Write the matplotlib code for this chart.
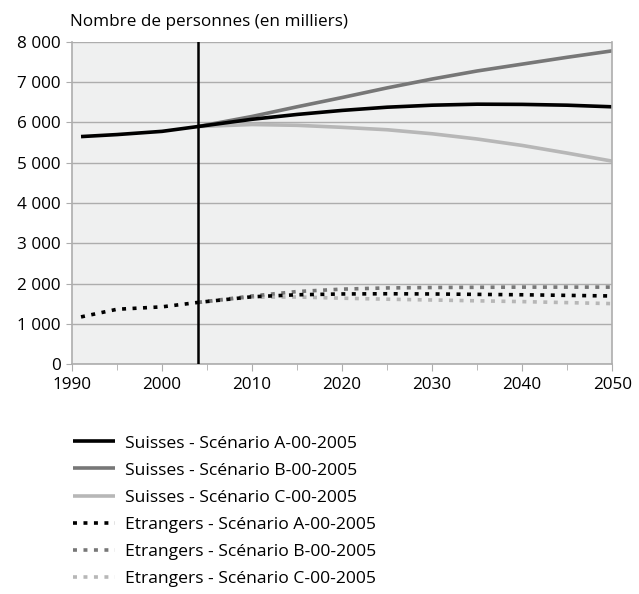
import matplotlib
matplotlib.use("Agg")
import matplotlib.pyplot as plt
from matplotlib.ticker import FuncFormatter, MultipleLocator

plt.rcParams["font.family"] = ["Open Sans", "DejaVu Sans"]

# Suisses (en milliers)
years_hist = [1991, 1995, 2000, 2004]
suisses_hist = [5650, 5700, 5780, 5900]
years_proj = [2004, 2010, 2015, 2020, 2025, 2030, 2035, 2040, 2045, 2050]
suisses_a = [5900, 6080, 6200, 6300, 6380, 6430, 6455, 6450, 6430, 6390]
suisses_b = [5900, 6150, 6390, 6620, 6860, 7080, 7280, 7450, 7620, 7780]
suisses_c = [5900, 5950, 5930, 5880, 5820, 5720, 5590, 5430, 5240, 5040]

# Etrangers (en milliers)
etrangers_hist = [1170, 1360, 1420, 1530]
etrangers_a = [1530, 1670, 1720, 1740, 1745, 1740, 1730, 1720, 1705, 1690]
etrangers_b = [1530, 1690, 1800, 1860, 1890, 1900, 1905, 1910, 1910, 1910]
etrangers_c = [1530, 1660, 1665, 1635, 1610, 1590, 1570, 1550, 1525, 1500]

labels = [
    "Suisses - Scénario A-00-2005",
    "Suisses - Scénario B-00-2005",
    "Suisses - Scénario C-00-2005",
    "Etrangers - Scénario A-00-2005",
    "Etrangers - Scénario B-00-2005",
    "Etrangers - Scénario C-00-2005",
]
colors = ["#000000", "#777777", "#b7b7b7"]
fs = 12.3

fig = plt.figure(figsize=(6.39, 5.94), dpi=100)
ax = fig.add_axes([0.1127, 0.3872, 0.8453, 0.5421])
ax.set_facecolor("#eff0f0")

lw = 2.6
dots = (1.1, 1.8)
# draw C, B first so A sits on top
for vals, col, lab in [(suisses_c, colors[2], labels[2]), (suisses_b, colors[1], labels[1])]:
    ax.plot(years_proj, vals, color=col, lw=lw, label=lab, solid_capstyle="butt")
for vals, col, lab in [(etrangers_c, colors[2], labels[5]), (etrangers_b, colors[1], labels[4])]:
    ax.plot(years_proj, vals, color=col, lw=lw, ls=(0, dots), label=lab, dash_capstyle="butt")
ax.plot(years_hist + years_proj[1:], suisses_hist + suisses_a[1:], color=colors[0], lw=lw,
        label=labels[0], solid_capstyle="butt")
ax.plot(years_hist + years_proj[1:], etrangers_hist + etrangers_a[1:], color=colors[0], lw=lw,
        ls=(0, dots), label=labels[3], dash_capstyle="butt")

ax.axvline(2004, color="black", lw=1.8, zorder=5)

ax.set_xlim(1990, 2050)
ax.set_ylim(0, 8000)
ax.xaxis.set_major_locator(MultipleLocator(10))
ax.xaxis.set_minor_locator(MultipleLocator(5))
ax.yaxis.set_major_locator(MultipleLocator(1000))
ax.yaxis.set_major_formatter(FuncFormatter(lambda v, p: f"{int(v):,}".replace(",", " ")))
ax.grid(axis="y", color="#adadad", lw=1.0)
ax.set_axisbelow(True)
ax.spines["top"].set_visible(False)
for s in ["left", "right", "bottom"]:
    ax.spines[s].set_color("#adadad")
    ax.spines[s].set_linewidth(1.2)
ax.tick_params(axis="both", which="both", colors="#adadad", labelcolor="black", labelsize=fs)
ax.tick_params(axis="x", which="major", length=5, pad=4)
ax.tick_params(axis="x", which="minor", length=4)
ax.tick_params(axis="y", length=4, pad=4)
ax.yaxis.set_ticks_position("left")

fig.text(0.109, 0.95, "Nombre de personnes (en milliers)", fontsize=fs, ha="left", va="bottom")

handles, labs = ax.get_legend_handles_labels()
order = [labs.index(l) for l in labels]
fig.legend([handles[i] for i in order], [labs[i] for i in order], loc="upper left",
           bbox_to_anchor=(0.104, 0.279), frameon=False, fontsize=12.6,
           handlelength=2.4, handletextpad=0.55, labelspacing=0.62, borderaxespad=0)

fig.savefig("out.png", dpi=100, facecolor="white")
